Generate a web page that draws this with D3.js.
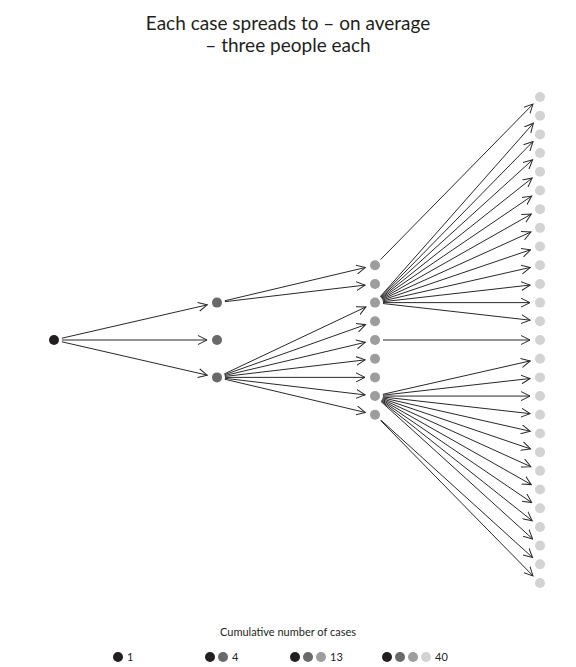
<!DOCTYPE html>
<html><head><meta charset="utf-8">
<script src="https://cdn.jsdelivr.net/npm/d3@7"></script>
<style>body{margin:0;background:#fff}</style></head>
<body><svg id="c" width="576" height="667"></svg>
<script>
const titleLines = ["Each case spreads to – on average", "– three people each"];
const generations = [0, 1, 2, 3];
const genSlots = [[13], [11, 13, 15], [9,10,11,12,13,14,15,16,17], d3.range(27)];
const genParents = [[], [0,0,0], [0,0,2,2,2,2,2,2,2],
  [0, 2,2,2,2,2,2,2,2,2,2,2,2, 4, 7,7,7,7,7,7,7,7,7,7,7, 8,8]];
const genColors = ["#231f20", "#69686a", "#9d9d9d", "#d3d3d3"];
const legendTitle = "Cumulative number of cases";
const legendTotals = [1, 4, 13, 40];

const svg = d3.select("#c");
const font = "Lato, 'Open Sans', sans-serif";
const x = d3.scalePoint().domain(generations).range([54, 540]);
x.range([54, 540]);
const xPos = d3.scaleOrdinal().domain(generations).range([54, 217, 375, 540]);
const y = d3.scaleLinear().domain([0, 26]).range([97, 583]);

svg.append("defs").append("marker").attr("id","ah")
  .attr("viewBox","0 0 10 10").attr("refX",9).attr("refY",5)
  .attr("markerWidth",10).attr("markerHeight",10).attr("markerUnits","userSpaceOnUse")
  .attr("orient","auto")
  .append("path").attr("d","M0,0.5 L9,5 L0,9.5").attr("fill","none")
  .attr("stroke","#2b2829").attr("stroke-width",1);

svg.append("text").attr("x",288).attr("y",0).attr("text-anchor","middle")
  .attr("font-family",font).attr("font-size",19).attr("fill","#231f20")
  .selectAll("tspan").data(titleLines).join("tspan")
  .attr("x",288).attr("y",(d,i)=>30+i*22).text(d=>d);

const edges = [];
generations.forEach(g => {
  genParents[g].forEach((p, i) => {
    edges.push({x1:xPos(g-1), y1:y(genSlots[g-1][p]), x2:xPos(g), y2:y(genSlots[g][i])});
  });
});
svg.append("g").selectAll("line").data(edges).join("line")
  .each(function(d){
    const dx=d.x2-d.x1, dy=d.y2-d.y1, L=Math.hypot(dx,dy);
    d3.select(this).attr("x1",d.x1+dx/L*8).attr("y1",d.y1+dy/L*8)
      .attr("x2",d.x2-dx/L*10).attr("y2",d.y2-dy/L*10);
  })
  .attr("stroke","#2b2829").attr("stroke-width",1).attr("marker-end","url(#ah)");

generations.forEach(g => {
  svg.append("g").selectAll("circle").data(genSlots[g]).join("circle")
    .attr("cx",xPos(g)).attr("cy",d=>y(d)).attr("r",5).attr("fill",genColors[g]);
});

svg.append("text").attr("x",288).attr("y",636).attr("text-anchor","middle")
  .attr("font-family",font).attr("font-size",11).attr("fill","#231f20").text(legendTitle);
const legX = d3.scaleOrdinal().domain(generations).range([118, 210, 295, 387]);
generations.forEach(g => {
  const lg = svg.append("g").attr("transform",`translate(${legX(g)},657)`);
  d3.range(g+1).forEach(k => lg.append("circle").attr("cx",k*13).attr("cy",0).attr("r",5).attr("fill",genColors[k]));
  lg.append("text").attr("x",g*13+9).attr("y",4).attr("font-family",font).attr("font-size",11)
    .attr("fill","#231f20").text(legendTotals[g]);
});
</script></body></html>
